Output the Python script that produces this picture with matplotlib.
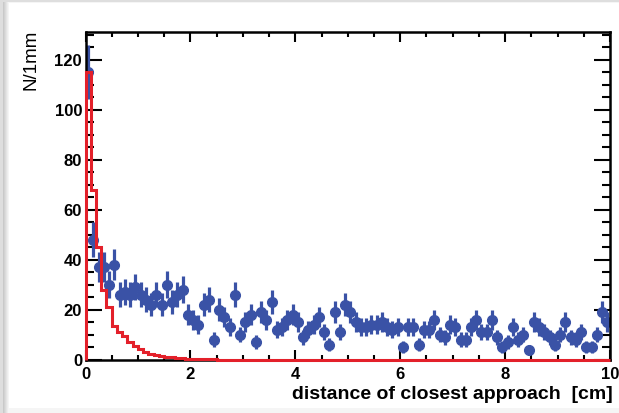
import numpy as np
import matplotlib.pyplot as plt
from matplotlib.patches import Rectangle
from matplotlib.ticker import MultipleLocator

# histogram binning: 100 bins of 1 mm between 0 and 10 cm
bin_edges = np.linspace(0, 10, 101)

# measured counts (blue points)
data_counts = [
    115, 48, 37, 37, 30, 38, 26, 27, 26, 29,
    26, 24, 22, 26, 22, 30, 23, 26, 28, 18,
    16, 14, 22, 24, 8, 20, 17, 13, 26, 10,
    15, 18, 7, 19, 16, 23, 12, 13, 16, 18,
    15, 9, 12, 14, 17, 11, 6, 19, 11, 22,
    19, 15, 13, 13, 14, 14, 15, 13, 12, 13,
    5, 13, 13, 6, 12, 12, 16, 10, 9, 14,
    13, 8, 8, 13, 16, 11, 11, 16, 9, 5,
    7, 13, 8, 10, 4, 15, 13, 11, 9, 6,
    10, 15, 9, 8, 11, 5, 5, 10, 19, 15,
]

# expectation (red histogram)
mc_counts = [
    115, 68, 45, 28, 21, 13.5, 11, 9.5, 7.2, 5.4,
    4.1, 3.1, 2.4, 1.8, 1.4, 1.1, 0.9, 0.7, 0.5, 0.4,
    0.3, 0.2, 0.15, 0.1, 0.05, 0, 0, 0, 0, 0,
    0, 0, 0, 0, 0, 0, 0, 0, 0, 0,
    0, 0, 0, 0, 0, 0, 0, 0, 0, 0,
    0, 0, 0, 0, 0, 0, 0, 0, 0, 0,
    0, 0, 0, 0, 0, 0, 0, 0, 0, 0,
    0, 0, 0, 0, 0, 0, 0, 0, 0, 0,
    0, 0, 0, 0, 0, 0, 0, 0, 0, 0,
    0, 0, 0, 0, 0, 0, 0, 0, 0, 0,
]

x_ticks = [0, 2, 4, 6, 8, 10]
y_ticks = [0, 20, 40, 60, 80, 100, 120]

plt.rcParams['font.family'] = ['Liberation Sans', 'DejaVu Sans']

W, H = 619, 414
fig = plt.figure(figsize=(W / 100, H / 100), dpi=100, facecolor='#dedede')

# slide-like white panel with a soft shadow on the left
for i, g in enumerate(['#c9c9c9', '#d2d2d2', '#dbdbdb', '#e4e4e4', '#ededed', '#f5f5f5']):
    fig.patches.append(Rectangle(((3 + i) / W, 0), 1, (H - 3) / H, transform=fig.transFigure,
                                 facecolor=g, edgecolor='none', zorder=-10 + i * 0.1))
fig.patches.append(Rectangle((9 / W, 5 / H), 1, (H - 9) / H, transform=fig.transFigure,
                             facecolor='white', edgecolor='none', zorder=-9))

ax = fig.add_axes([85.5 / W, 1 - 360.5 / H, 524.5 / W, 327.5 / H])
ax.set_facecolor('white')

centers = 0.5 * (bin_edges[:-1] + bin_edges[1:])
counts = np.array(data_counts, dtype=float)
ax.errorbar(centers, counts, yerr=np.sqrt(counts), xerr=0.05, fmt='o',
            color='#3a52a6', ms=7, elinewidth=2.3, capsize=0, zorder=2)

ax.stairs(mc_counts, bin_edges, baseline=0, color='#e3202a', lw=2.2,
          zorder=3, clip_on=False)

ax.set_xlim(0, 10)
ax.set_ylim(0, 131)
ax.set_xticks(x_ticks)
ax.set_yticks(y_ticks)
ax.xaxis.set_minor_locator(MultipleLocator(0.5))
ax.yaxis.set_minor_locator(MultipleLocator(5))

for s in ax.spines.values():
    s.set_linewidth(1.8)

ax.tick_params(axis='both', which='both', direction='in', top=True, right=True, width=1.5)
ax.tick_params(axis='x', which='major', length=7.1, pad=5, labelsize=12)
ax.tick_params(axis='x', which='minor', length=3.5)
ax.tick_params(axis='y', which='major', length=11.3, pad=2.5, labelsize=12)
ax.tick_params(axis='y', which='minor', length=5.6)
for lbl in ax.get_xticklabels() + ax.get_yticklabels():
    lbl.set_fontweight('bold')

ax.set_xlabel('distance of closest approach  [cm]', loc='right', fontsize=14,
              fontweight='bold')
ax.xaxis.set_label_coords(1.005, -0.078)
ax.set_ylabel('N/1mm', loc='top', fontsize=13.5)
ax.yaxis.set_label_coords(-0.088, 1.01)

fig.savefig('out.png', dpi=100, facecolor=fig.get_facecolor())
